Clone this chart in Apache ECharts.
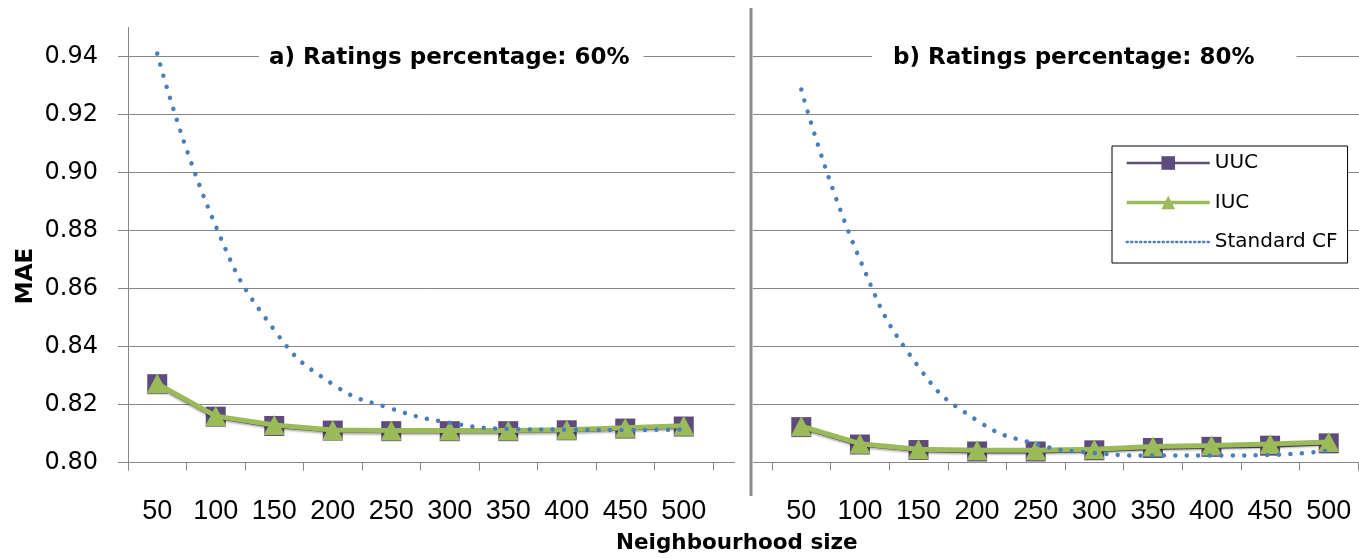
<!DOCTYPE html>
<html><head><meta charset="utf-8">
<script src="https://cdn.jsdelivr.net/npm/echarts@6/dist/echarts.min.js"></script>
<style>html,body{margin:0;padding:0;background:#fff}#c{width:1359px;height:558px}</style>
</head><body><div id="c"></div>
<script>
const categories = ['50','100','150','200','250','300','350','400','450','500'];
const uucA = [0.8270, 0.8158, 0.8126, 0.8110, 0.8108, 0.8108, 0.8108, 0.8111, 0.8117, 0.8124];
const iucA = [0.8272, 0.8160, 0.8129, 0.8112, 0.8110, 0.8110, 0.8110, 0.8113, 0.8120, 0.8127];
const cfA  = [0.9410, 0.8815, 0.8457, 0.8270, 0.8186, 0.8137, 0.8116, 0.8113, 0.8112, 0.8114];
const uucB = [0.8122, 0.8062, 0.8043, 0.8038, 0.8038, 0.8042, 0.8050, 0.8054, 0.8058, 0.8066];
const iucB = [0.8125, 0.8065, 0.8046, 0.8042, 0.8042, 0.8046, 0.8055, 0.8059, 0.8064, 0.8071];
const cfB  = [0.9286, 0.8700, 0.8330, 0.8145, 0.8064, 0.8033, 0.8024, 0.8024, 0.8026, 0.8041];
const yMin = 0.80, yMax = 0.95, yStep = 0.02;
const seriesNames = ['UUC', 'IUC', 'Standard CF'];
const titleA = 'a) Ratings percentage: 60%';
const titleB = 'b) Ratings percentage: 80%';
const xName = 'Neighbourhood size';
const yName = 'MAE';

const GRID_COLOR = '#868686';
const PURPLE = '#5E4A7C';
const GREEN = '#9BBB59';
const BLUE = '#4A7EBB';

const chart = echarts.init(document.getElementById('c'), null, {renderer: 'canvas'});
const TOP = 27.5, H = 435;

function bgY(idx) {
  return {gridIndex: idx, type: 'value', min: yMin, max: yMax, interval: yStep,
    axisLine: {show: false}, axisTick: {show: false}, axisLabel: {show: false},
    splitLine: {show: true, showMaxLine: false, lineStyle: {color: GRID_COLOR, width: 1}}};
}
function bgX(idx) {
  return {gridIndex: idx, type: 'category', data: categories, show: false};
}
function dataX(idx) {
  return {gridIndex: idx, type: 'category', data: categories, boundaryGap: true,
    axisLine: {show: true, lineStyle: {color: GRID_COLOR, width: 1}},
    axisTick: {show: true, inside: false, length: 8, interval: 0, lineStyle: {color: GRID_COLOR}},
    axisLabel: {margin: 36, interval: 0, hideOverlap: false, color: '#000', fontFamily: 'Liberation Sans', fontSize: 27},
    splitLine: {show: false}};
}

function mkSeries(name, data, xi, yi) {
  if (name === 'UUC') {
    return {name, type: 'line', xAxisIndex: xi, yAxisIndex: yi, data,
      symbol: 'rect', symbolSize: 20, showSymbol: true,
      lineStyle: {color: PURPLE, width: 4},
      itemStyle: {color: PURPLE}, z: 2, animation: false};
  }
  if (name === 'IUC') {
    return {name, type: 'line', xAxisIndex: xi, yAxisIndex: yi, data,
      symbol: 'triangle', symbolSize: [21, 20], showSymbol: true,
      lineStyle: {color: GREEN, width: 5, shadowColor: 'rgba(0,0,0,0.3)', shadowBlur: 2, shadowOffsetY: 2},
      itemStyle: {color: GREEN}, z: 3, animation: false};
  }
  return {name, type: 'line', xAxisIndex: xi, yAxisIndex: yi, data,
    symbol: 'none', smooth: 0.5,
    lineStyle: {color: BLUE, width: 4.5, type: [0.01, 11.5], cap: 'round'},
    itemStyle: {color: BLUE}, z: 4, animation: false};
}

const option = {
  animation: false,
  backgroundColor: '#fff',
  textStyle: {fontFamily: 'DejaVu Sans'},
  title: [
    {text: titleA, left: 259, top: 43, padding: [4, 14, 4, 10], backgroundColor: '#fff',
      textStyle: {fontFamily: 'DejaVu Sans', fontWeight: 'bold', fontSize: 23, color: '#000'}},
    {text: titleB, left: 872, top: 43, padding: [4, 42, 4, 21], backgroundColor: '#fff',
      textStyle: {fontFamily: 'DejaVu Sans', fontWeight: 'bold', fontSize: 23, color: '#000'}},
    {text: xName, left: 616, top: 532, padding: 0,
      textStyle: {fontFamily: 'DejaVu Sans', fontWeight: 'bold', fontSize: 21.5, color: '#000'}}
  ],
  graphic: [
    {type: 'text', x: 26, y: 276, rotation: Math.PI / 2, z: 10,
      style: {text: yName, fill: '#000', font: 'bold 23px "DejaVu Sans"', align: 'center', verticalAlign: 'middle'}},
    {type: 'line', z: 10, shape: {x1: 751, y1: 8, x2: 751, y2: 496},
      style: {stroke: '#8a8a8a', lineWidth: 3}}
  ],
  legend: {
    orient: 'vertical', left: 1112, top: 146,
    backgroundColor: '#fff', borderColor: '#000', borderWidth: 1,
    padding: [7, 10, 11, 13], itemWidth: 83, itemHeight: 17, itemGap: 19.5,
    textStyle: {fontFamily: 'DejaVu Sans', fontSize: 20, color: '#000'},
    data: [
      {name: seriesNames[0], lineStyle: {width: 2.5}},
      {name: seriesNames[1], lineStyle: {width: 3.5, shadowBlur: 0, shadowOffsetY: 0}},
      {name: seriesNames[2], lineStyle: {width: 2.5, type: [1, 3.5]}, itemStyle: {opacity: 0}}
    ]
  },
  grid: [
    {left: 118, top: TOP, width: 617, height: H},
    {left: 128, top: TOP, width: 585, height: H},
    {left: 753, top: TOP, width: 606, height: H},
    {left: 772, top: TOP, width: 586, height: H}
  ],
  xAxis: [bgX(0), dataX(1), bgX(2), dataX(3)],
  yAxis: [
    bgY(0),
    {gridIndex: 1, type: 'value', min: yMin, max: yMax, interval: yStep,
      axisLine: {show: true, lineStyle: {color: GRID_COLOR, width: 1}},
      axisTick: {show: false}, splitLine: {show: false},
      axisLabel: {show: true, margin: 30, showMaxLabel: false, color: '#000',
        fontFamily: 'DejaVu Sans', fontSize: 24, formatter: v => v.toFixed(2)}},
    bgY(2),
    {gridIndex: 3, type: 'value', min: yMin, max: yMax, interval: yStep, show: false}
  ],
  series: [
    mkSeries('UUC', uucA, 1, 1), mkSeries('IUC', iucA, 1, 1), mkSeries('Standard CF', cfA, 1, 1),
    mkSeries('UUC', uucB, 3, 3), mkSeries('IUC', iucB, 3, 3), mkSeries('Standard CF', cfB, 3, 3)
  ]
};
chart.setOption(option);
</script></body></html>
